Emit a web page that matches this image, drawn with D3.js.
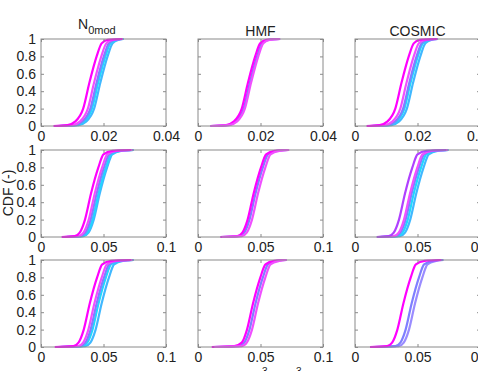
<!DOCTYPE html>
<html>
<head>
<meta charset="utf-8">
<script src="https://cdn.jsdelivr.net/npm/d3@7"></script>
<style>
body { margin: 0; background: #fff; }
svg { display: block; font-family: "Liberation Sans", Arial, sans-serif; }
</style>
</head>
<body>
<script>
var W = 478, H = 371
var plotW = 125, plotH = 87
var colX = [41, 198, 355]
var rowY = [39, 150, 260]

var titles = ["N", "HMF", "COSMIC"]
var xMax = [0.04, 0.1, 0.1]
var xTicks = [[0, 0.02, 0.04], [0, 0.05, 0.1], [0, 0.05, 0.1]]
var yTicks = [0, 0.2, 0.4, 0.6, 0.8, 1]

// CDF levels at which the quantiles of every curve were read
var cdfLevels = [0, 0.01, 0.05, 0.2, 0.5, 0.8, 0.95, 0.99, 1]

// quantiles per panel, series keyed by name (row1..3, col1..3)
var r1c1 = {
  c2: [0.0060, 0.0120, 0.0144, 0.0170, 0.0190, 0.0213, 0.0229, 0.0248, 0.0265],
  c1: [0.0058, 0.0113, 0.0137, 0.0163, 0.0183, 0.0206, 0.0222, 0.0241, 0.0263],
  b1: [0.0055, 0.0108, 0.0132, 0.0158, 0.0178, 0.0201, 0.0217, 0.0236, 0.0262],
  m2: [0.0050, 0.0100, 0.0124, 0.0150, 0.0170, 0.0193, 0.0209, 0.0228, 0.0262],
  m1: [0.0040, 0.0085, 0.0109, 0.0135, 0.0155, 0.0178, 0.0194, 0.0213, 0.0260]
}
var r1c2 = {
  b1: [0.0040, 0.0096, 0.0120, 0.0146, 0.0166, 0.0189, 0.0205, 0.0225, 0.0263],
  m1: [0.0040, 0.0090, 0.0114, 0.0140, 0.0160, 0.0183, 0.0199, 0.0219, 0.0262],
  m2: [0.0042, 0.0100, 0.0124, 0.0150, 0.0170, 0.0193, 0.0209, 0.0229, 0.0263]
}
var r1c3 = {
  c2: [0.0055, 0.0116, 0.0140, 0.0166, 0.0186, 0.0209, 0.0225, 0.0244, 0.0266],
  c1: [0.0052, 0.0108, 0.0132, 0.0158, 0.0178, 0.0201, 0.0217, 0.0236, 0.0265],
  b1: [0.0050, 0.0104, 0.0128, 0.0154, 0.0174, 0.0197, 0.0213, 0.0232, 0.0265],
  m2: [0.0045, 0.0095, 0.0119, 0.0145, 0.0165, 0.0188, 0.0204, 0.0223, 0.0264],
  m1: [0.0037, 0.0079, 0.0103, 0.0129, 0.0149, 0.0172, 0.0188, 0.0207, 0.0262]
}
var r2c1 = {
  c2: [0.020, 0.034, 0.038, 0.0422, 0.047, 0.0529, 0.057, 0.064, 0.074],
  c1: [0.020, 0.033, 0.037, 0.0412, 0.046, 0.0519, 0.056, 0.063, 0.074],
  b1: [0.019, 0.0315, 0.0355, 0.0397, 0.0445, 0.0504, 0.0545, 0.0615, 0.074],
  m2: [0.018, 0.030, 0.034, 0.0382, 0.043, 0.0489, 0.053, 0.060, 0.073],
  m1: [0.0165, 0.027, 0.031, 0.0352, 0.040, 0.0459, 0.050, 0.057, 0.072]
}
var r2c2 = {
  b1: [0.018, 0.033, 0.037, 0.0412, 0.046, 0.0519, 0.056, 0.063, 0.072],
  m1: [0.018, 0.0315, 0.0355, 0.0397, 0.0445, 0.0504, 0.0545, 0.0615, 0.072],
  m2: [0.019, 0.035, 0.039, 0.0432, 0.048, 0.0539, 0.058, 0.065, 0.073]
}
var r2c3 = {
  c2: [0.020, 0.036, 0.040, 0.0442, 0.049, 0.0549, 0.059, 0.066, 0.0747],
  c1: [0.020, 0.034, 0.038, 0.0422, 0.047, 0.0529, 0.057, 0.064, 0.0747],
  b1: [0.019, 0.0323, 0.0363, 0.0405, 0.0453, 0.0512, 0.0553, 0.0623, 0.0747],
  m2: [0.018, 0.031, 0.035, 0.0392, 0.044, 0.0499, 0.054, 0.061, 0.074],
  p1: [0.0173, 0.027, 0.031, 0.0352, 0.040, 0.0459, 0.050, 0.057, 0.073]
}
var r3c1 = {
  c2: [0.015, 0.0355, 0.0395, 0.0437, 0.0485, 0.0544, 0.0585, 0.0655, 0.074],
  c1: [0.015, 0.033, 0.037, 0.0412, 0.046, 0.0519, 0.056, 0.063, 0.074],
  b1: [0.014, 0.0315, 0.0355, 0.0397, 0.0445, 0.0504, 0.0545, 0.0615, 0.074],
  m2: [0.013, 0.0297, 0.0337, 0.0379, 0.0427, 0.0486, 0.0527, 0.0597, 0.073],
  m1: [0.011, 0.026, 0.030, 0.0342, 0.039, 0.0449, 0.049, 0.056, 0.072]
}
var r3c2 = {
  b1: [0.012, 0.033, 0.037, 0.0412, 0.046, 0.0519, 0.056, 0.063, 0.071],
  m1: [0.011, 0.029, 0.035, 0.0392, 0.044, 0.0499, 0.054, 0.061, 0.070],
  m2: [0.013, 0.035, 0.039, 0.0432, 0.048, 0.0539, 0.058, 0.065, 0.071]
}
var r3c3 = {
  b2: [0.015, 0.035, 0.039, 0.0432, 0.048, 0.0539, 0.058, 0.065, 0.0707],
  b1: [0.014, 0.0323, 0.0363, 0.0405, 0.0453, 0.0512, 0.0553, 0.0623, 0.0707],
  m1: [0.012, 0.0257, 0.0297, 0.0339, 0.0387, 0.0446, 0.0487, 0.0557, 0.069]
}
var panels = [[r1c1, r1c2, r1c3], [r2c1, r2c2, r2c3], [r3c1, r3c2, r3c3]]

var colors = {
  m1: "#ff00ff", m2: "#f050ff", p1: "#b040ff",
  b1: "#7f7fff", b2: "#9a8cff",
  c1: "#20d8ff", c2: "#40b8ff"
}

var svg = d3.select("body").append("svg")
  .attr("width", W)
  .attr("height", H)

var y = d3.scaleLinear().domain([0, 1]).range([plotH, 0])
var fmt = function(d) { return String(+d.toFixed(2)) }

panels.forEach(function(row, r) {
  var x = d3.scaleLinear().domain([0, xMax[r]]).range([0, plotW])
  row.forEach(function(series, c) {
    var g = svg.append("g")
      .attr("transform", "translate(" + colX[c] + "," + rowY[r] + ")")

    var line = d3.line()
      .x(function(d) { return x(d[0]) })
      .y(function(d) { return y(d[1]) })
      .curve(d3.curveMonotoneX)

    Object.keys(series).forEach(function(name) {
      var pts = series[name].map(function(v, i) { return [v, cdfLevels[i]] })
      g.append("path")
        .attr("d", line(pts))
        .attr("fill", "none")
        .attr("stroke", colors[name])
        .attr("stroke-width", 2.2)
    })

    g.append("rect")
      .attr("width", plotW).attr("height", plotH)
      .attr("fill", "none").attr("stroke", "#8a8a8a").attr("stroke-width", 1)

    var ax = [
      g.append("g").attr("transform", "translate(0," + plotH + ")")
        .call(d3.axisBottom(x).tickValues(xTicks[r]).tickSize(-3).tickSizeOuter(0).tickPadding(5).tickFormat(fmt)),
      g.append("g")
        .call(d3.axisTop(x).tickValues(xTicks[r]).tickSize(-3).tickSizeOuter(0).tickFormat("")),
      g.append("g")
        .call(d3.axisLeft(y).tickValues(yTicks).tickSize(-3).tickSizeOuter(0).tickPadding(5).tickFormat(c == 0 ? fmt : "")),
      g.append("g").attr("transform", "translate(" + plotW + ",0)")
        .call(d3.axisRight(y).tickValues(yTicks).tickSize(-3).tickSizeOuter(0).tickFormat(""))
    ]
    ax.forEach(function(a) {
      a.select(".domain").remove()
      a.selectAll("line").attr("stroke", "#8a8a8a")
      a.selectAll("text").attr("fill", "#222").style("font-size", "14px")
        .style("font-family", "Liberation Sans, Arial, sans-serif")
    })
  })
})

// column titles
var t0 = svg.append("text").attr("x", 78).attr("y", 29)
  .attr("fill", "#222").style("font-size", "14px")
t0.append("tspan").text(titles[0])
t0.append("tspan").attr("dy", 5).style("font-size", "11px").text("0mod")

svg.append("text").attr("x", colX[1] + plotW / 2).attr("y", 36)
  .attr("text-anchor", "middle").attr("fill", "#222").style("font-size", "14px")
  .text(titles[1])
svg.append("text").attr("x", colX[2] + plotW / 2).attr("y", 36)
  .attr("text-anchor", "middle").attr("fill", "#222").style("font-size", "14px")
  .text(titles[2])

// y label
svg.append("text")
  .attr("transform", "translate(13," + 193 + ") rotate(-90)")
  .attr("text-anchor", "middle").attr("fill", "#222").style("font-size", "14px")
  .text("CDF (-)")

// x label, cut off by the bottom edge (only superscripts show)
var xl = svg.append("text").attr("y", 384).attr("fill", "#222").style("font-size", "14px")
xl.append("tspan").attr("x", 262).attr("y", 375).style("font-size", "10px").text("3")
xl.append("tspan").attr("x", 296).attr("y", 375).style("font-size", "10px").text("3")
</script>
</body>
</html>
